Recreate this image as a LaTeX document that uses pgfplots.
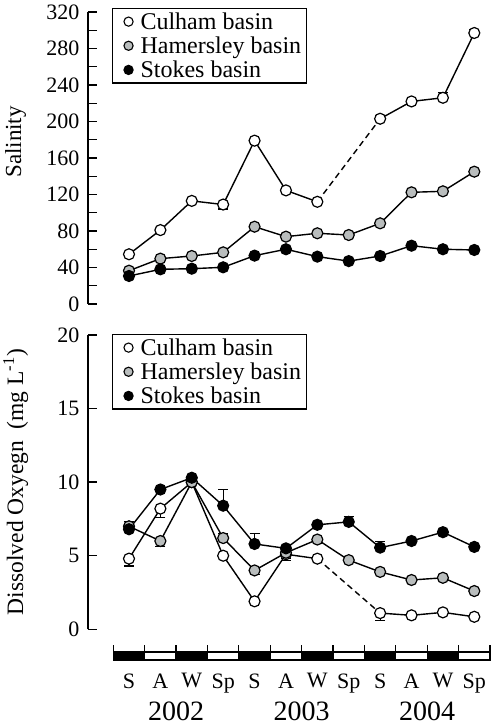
\documentclass[border=0pt]{standalone}
\usepackage{pgfplots}
\pgfplotsset{compat=1.18}
\usepackage{fontspec}
\setmainfont{Liberation Serif}
\definecolor{hgray}{RGB}{185,189,189}
\begin{document}
\begin{tikzpicture}
\path[use as bounding box] (0pt,0pt) rectangle (492pt,726pt);
\pgfplotsset{
 panel/.style={scale only axis, width=402pt, xmin=-1.306, xmax=11.5,
  axis y line=left, axis x line=none, axis line style={-, line width=1.3pt},
  tick align=inside, major tick length=9pt, minor tick length=9pt,
  tick style={line width=1.3pt, black},
  /pgf/number format/assume math mode=true,
  yticklabel style={font=\fontsize{22}{26}\selectfont, xshift=-5pt},
  clip=false, unbounded coords=jump,
  legend image code/.code={\path[draw=none, fill=none] (-14pt,0pt) -- (9pt,0pt); \draw[##1] plot coordinates {(0pt,0pt)};},
  legend style={draw=black, line width=1.1pt, font=\fontsize{24}{28}\selectfont,
    anchor=north west, cells={anchor=west}, row sep=6pt, inner xsep=2pt, inner ysep=4pt,
    nodes={inner xsep=3pt, inner ysep=0pt}}},
 cul/.style={line width=1.4pt, black, mark=*, mark size=5.5pt, mark options={fill=white, line width=1.2pt, solid}},
 ham/.style={line width=1.4pt, black, mark=*, mark size=5.5pt, mark options={fill=hgray, line width=1.2pt, solid}},
 sto/.style={line width=1.4pt, black, mark=*, mark size=5.5pt, mark options={fill=black, line width=1.2pt, solid}},
 errp/.style={forget plot, draw=none, mark=none, black, error bars/.cd, y dir=both, y explicit,
   error bar style={line width=1.2pt, solid}, error mark options={rotate=90, mark size=5pt, line width=1.2pt}},
 dsh/.style={forget plot, black, line width=1.4pt, dash pattern=on 6pt off 4pt},
 lcul/.style={only marks, draw=none, mark=*, mark size=4.6pt, mark options={fill=white, draw=black, line width=1.1pt}},
 lham/.style={only marks, draw=none, mark=*, mark size=4.6pt, mark options={fill=hgray, draw=black, line width=1.1pt}},
 lsto/.style={only marks, draw=none, mark=*, mark size=4.6pt, mark options={fill=black, draw=black, line width=1.1pt}},
}
% ---------------- Salinity ----------------
\begin{axis}[panel, at={(88pt,422pt)}, anchor=south west, height=292pt,
  ymin=0, ymax=320, ytick={0,40,...,320}, minor ytick={20,60,...,300},
  ylabel={Salinity}, every axis y label/.style={at={(axis description cs:-0.18,0.555)}, rotate=90, anchor=center, font=\fontsize{23}{27}\selectfont},
  legend style={at={(axis description cs:0.0597,1.0137)}}]
\addlegendimage{lcul}\addlegendentry{Culham basin}
\addlegendimage{lham}\addlegendentry{Hamersley basin}
\addlegendimage{lsto}\addlegendentry{Stokes basin}
\addplot[errp] coordinates {(3,109) += (0,0) -= (0,5) (8,203) += (0,3.5) -= (0,0) (10,226) += (0,5.5) -= (0,0) (11,297) += (0,4) -= (0,0)};
\addplot[dsh] coordinates {(6,112) (8,203)};
\addplot[cul, forget plot] coordinates {(0,54.5) (1,81) (2,113) (3,109) (4,179) (5,124.5) (6,112) (7,nan) (8,203) (9,222) (10,226) (11,297)};
\addplot[ham, forget plot] coordinates {(0,36.5) (1,49.7) (2,52.6) (3,56.6) (4,84.7) (5,73.8) (6,77.5) (7,75.6) (8,88.4) (9,122.4) (10,123.5) (11,145)};
\addplot[sto, forget plot] coordinates {(0,30.7) (1,38) (2,38.7) (3,40.2) (4,53) (5,60) (6,51.9) (7,47) (8,52.6) (9,63.9) (10,60) (11,59.2)};
\end{axis}
% ---------------- Dissolved oxygen ----------------
\begin{axis}[panel, at={(88pt,96.7pt)}, anchor=south west, height=294.3pt,
  ymin=0, ymax=20, ytick={0,5,...,20},
  ylabel={Dissolved Oxyegn\ \ (mg L\textsuperscript{-1})}, every axis y label/.style={at={(axis description cs:-0.18,0.5)}, rotate=90, anchor=center, font=\fontsize{23.5}{27}\selectfont},
  legend style={at={(axis description cs:0.0597,1.0034)}}]
\addlegendimage{lcul}\addlegendentry{Culham basin}
\addlegendimage{lham}\addlegendentry{Hamersley basin}
\addlegendimage{lsto}\addlegendentry{Stokes basin}
\addplot[errp] coordinates {(0,4.8) += (0,0) -= (0,0.5) (1,8.2) += (0,0) -= (0,0.6) (8,1.1) += (0,0) -= (0,0.5) (5,5.1) += (0,0) -= (0,0.3)};
\addplot[errp] coordinates {(0,7.0) += (0,0.3) -= (0,0) (1,6.0) += (0,0) -= (0,0.4) (3,6.2) += (0,0.3) -= (0,0) (4,4.0) += (0,0) -= (0,0.3) (5,5.2) += (0,0) -= (0,0.5)};
\addplot[errp] coordinates {(3,8.4) += (0,1.1) -= (0,0) (4,5.8) += (0,0.7) -= (0,0) (7,7.3) += (0,0.35) -= (0,0) (8,5.55) += (0,0.4) -= (0,0)};
\addplot[dsh] coordinates {(6,4.8) (8,1.1)};
\addplot[cul, forget plot] coordinates {(0,4.8) (1,8.2) (2,10.0) (3,5.0) (4,1.9) (5,5.1) (6,4.8) (7,nan) (8,1.1) (9,0.95) (10,1.15) (11,0.85)};
\addplot[ham, forget plot] coordinates {(0,7.0) (1,6.0) (2,10.0) (3,6.2) (4,4.0) (5,5.2) (6,6.1) (7,4.7) (8,3.9) (9,3.35) (10,3.5) (11,2.6)};
\addplot[sto, forget plot] coordinates {(0,6.8) (1,9.5) (2,10.3) (3,8.4) (4,5.8) (5,5.5) (6,7.1) (7,7.3) (8,5.55) (9,6.0) (10,6.6) (11,5.6)};
\end{axis}
% ---------------- Season bar ----------------
\begin{axis}[at={(88pt,66pt)}, anchor=south west, scale only axis, width=402pt, height=8pt,
  xmin=-1.306, xmax=11.5, ymin=0, ymax=1, clip=false,
  axis x line=bottom, axis y line=none, x axis line style={draw=none},
  xtick={0,...,11}, xticklabels={S,A,W,Sp,S,A,W,Sp,S,A,W,Sp},
  major tick length=0pt, tick style={draw=none},
  xticklabel style={font=\fontsize{22}{26}\selectfont, yshift=-10pt},
  extra x ticks={1.5,5.5,9.5}, extra x tick labels={2002,2003,2004},
  extra x tick style={xticklabel style={font=\fontsize{28}{32}\selectfont, yshift=-28pt}}]
\fill[black] (axis cs:-0.5,0) rectangle (axis cs:0.5,1);
\fill[black] (axis cs:1.5,0) rectangle (axis cs:2.5,1);
\fill[black] (axis cs:3.5,0) rectangle (axis cs:4.5,1);
\fill[black] (axis cs:5.5,0) rectangle (axis cs:6.5,1);
\fill[black] (axis cs:7.5,0) rectangle (axis cs:8.5,1);
\fill[black] (axis cs:9.5,0) rectangle (axis cs:10.5,1);
\draw[line width=1.2pt] (axis cs:-0.5,0) rectangle (axis cs:11.5,1);
\draw[line width=1.2pt] (axis cs:-0.5,0) -- (axis cs:-0.5,1.9)
  (axis cs:0.5,0) -- (axis cs:0.5,1.9) (axis cs:1.5,0) -- (axis cs:1.5,1.9)
  (axis cs:2.5,0) -- (axis cs:2.5,1.9) (axis cs:3.5,0) -- (axis cs:3.5,1.9)
  (axis cs:4.5,0) -- (axis cs:4.5,1.9) (axis cs:5.5,0) -- (axis cs:5.5,1.9)
  (axis cs:6.5,0) -- (axis cs:6.5,1.9) (axis cs:7.5,0) -- (axis cs:7.5,1.9)
  (axis cs:8.5,0) -- (axis cs:8.5,1.9) (axis cs:9.5,0) -- (axis cs:9.5,1.9)
  (axis cs:10.5,0) -- (axis cs:10.5,1.9) (axis cs:11.5,0) -- (axis cs:11.5,1.9);
\end{axis}
\end{tikzpicture}
\end{document}
